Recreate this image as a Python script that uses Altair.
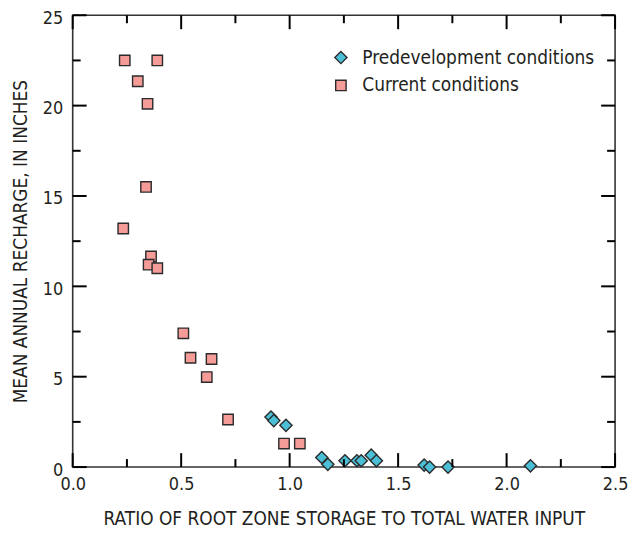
import altair as alt
import pandas as pd

# Current conditions (squares)
cur_x = [0.24, 0.39, 0.30, 0.345, 0.338, 0.233, 0.361, 0.35, 0.39, 0.51, 0.543, 0.64, 0.618, 0.716, 0.974, 1.047]
cur_y = [22.5, 22.5, 21.35, 20.1, 15.5, 13.2, 11.65, 11.2, 11.0, 7.4, 6.05, 5.98, 4.98, 2.63, 1.3, 1.3]
# Predevelopment conditions (diamonds)
pre_x = [0.914, 0.927, 0.983, 1.148, 1.176, 1.255, 1.31, 1.33, 1.376, 1.40, 1.62, 1.645, 1.73, 2.11]
pre_y = [2.77, 2.57, 2.31, 0.53, 0.15, 0.35, 0.35, 0.35, 0.66, 0.35, 0.11, 0.0, 0.0, 0.07]

series_names = ["Predevelopment conditions", "Current conditions"]
x_major = [0.0, 0.5, 1.0, 1.5, 2.0, 2.5]
x_minor = [0.25, 0.75, 1.25, 1.75, 2.25]
y_major = [0, 5, 10, 15, 20, 25]
y_minor = [2.5, 7.5, 12.5, 17.5, 22.5]

FONT = "DejaVu Sans Condensed, Roboto, Liberation Sans"
TXT = "#231f20"
W, H = 545, 454
MAJ, MIN = 14, 8
XMAX, YMAX = 2.5, 25

df = pd.concat([
    pd.DataFrame({"x": pre_x, "y": pre_y, "s": series_names[0]}),
    pd.DataFrame({"x": cur_x, "y": cur_y, "s": series_names[1]}),
])

xs = alt.Scale(domain=[0, XMAX], nice=False, zero=False)
ys = alt.Scale(domain=[0, YMAX], nice=False, zero=False)

points = alt.Chart(df).mark_point(filled=True, stroke="#2b2b2b", strokeWidth=1.4, opacity=1).encode(
    x=alt.X("x:Q", scale=xs, title="RATIO OF ROOT ZONE STORAGE TO TOTAL WATER INPUT",
            axis=alt.Axis(values=x_major, format=".1f", ticks=False, domain=False, grid=False,
                          labelFlush=False, labelPadding=9, titlePadding=16, labelFontSize=18)),
    y=alt.Y("y:Q", scale=ys, title="MEAN ANNUAL RECHARGE, IN INCHES",
            axis=alt.Axis(values=y_major, ticks=False, domain=False, grid=False, labelOffset=3,
                          labelFlush=False, labelPadding=10, titlePadding=12, labelFontSize=18)),
    color=alt.Color("s:N", scale=alt.Scale(domain=series_names, range=["#4bbfd5", "#f59b98"]),
                    legend=alt.Legend(title=None, orient="none", legendX=260, legendY=33,
                                      symbolStrokeColor="#2b2b2b", symbolStrokeWidth=1.4,
                                      labelFontSize=19, labelFont=FONT, labelColor=TXT, labelLimit=0,
                                      symbolSize=110, rowPadding=8, labelOffset=12, padding=0)),
    shape=alt.Shape("s:N", scale=alt.Scale(domain=series_names, range=["diamond", "square"]), legend=None),
    size=alt.Size("s:N", scale=alt.Scale(domain=series_names, range=[150, 110]), legend=None),
)

RULE = dict(color="black", strokeWidth=2)


def xticks(vals, length):
    d = pd.DataFrame({"v": vals})
    dy = YMAX * length / H
    b = alt.Chart(d).mark_rule(**RULE).encode(
        x=alt.X("v:Q", scale=xs), y=alt.datum(0), y2=alt.datum(dy))
    t = alt.Chart(d).mark_rule(**RULE).encode(
        x=alt.X("v:Q", scale=xs), y=alt.datum(YMAX), y2=alt.datum(YMAX - dy))
    return [b, t]


def yticks(vals, length):
    d = pd.DataFrame({"v": vals})
    dx = XMAX * length / W
    l = alt.Chart(d).mark_rule(**RULE).encode(
        y=alt.Y("v:Q", scale=ys), x=alt.datum(0), x2=alt.datum(dx))
    r = alt.Chart(d).mark_rule(**RULE).encode(
        y=alt.Y("v:Q", scale=ys), x=alt.datum(XMAX), x2=alt.datum(XMAX - dx))
    return [l, r]


layers = [points] + xticks(x_major, MAJ) + xticks(x_minor, MIN) + yticks(y_major, MAJ) + yticks(y_minor, MIN)

chart = alt.layer(*layers).properties(
    width=W, height=H,
    autosize=alt.AutoSizeParams(type="none"),
    padding={"left": 65, "top": 6, "right": 16, "bottom": 72},
).configure_view(
    stroke="#333333", strokeWidth=1.6
).configure_axis(
    labelFont=FONT, titleFont=FONT, labelFontSize=18, titleFontSize=19,
    labelColor=TXT, titleColor=TXT, titleFontWeight="normal",
)

chart.save("out.html", embed_options={"renderer": "svg", "actions": False})
